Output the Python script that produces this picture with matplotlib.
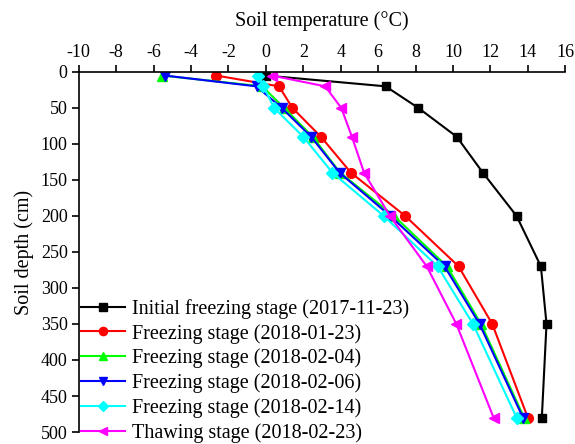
import numpy as np
import matplotlib
matplotlib.use('Agg')
import matplotlib.pyplot as plt

plt.rcParams['font.family'] = ['Liberation Serif', 'DejaVu Serif']
plt.rcParams['font.size'] = 13
plt.rcParams['axes.unicode_minus'] = False

# 测点深度 (cm)
depth = [5, 20, 50, 90, 140, 200, 270, 350, 480]

# 各时期地温 (°C)
t_initial = [0.0, 6.4, 8.15, 10.2, 11.6, 13.4, 14.7, 15.0, 14.75]
t_0123 = [-2.65, 0.7, 1.42, 2.94, 4.55, 7.45, 10.3, 12.1, 14.0]
t_0204 = [-5.55, -0.2, 0.98, 2.5, 3.97, 6.85, 9.68, 11.5, 13.8]
t_0206 = [-5.4, -0.5, 0.85, 2.42, 3.94, 6.65, 9.55, 11.42, 13.74]
t_0214 = [-0.43, -0.13, 0.44, 2.0, 3.56, 6.3, 9.18, 11.07, 13.4]
t_0223 = [0.32, 3.17, 4.03, 4.6, 5.25, 6.63, 8.6, 10.18, 12.17]

labels = ['Initial freezing stage (2017-11-23)',
          'Freezing stage (2018-01-23)',
          'Freezing stage (2018-02-04)',
          'Freezing stage (2018-02-06)',
          'Freezing stage (2018-02-14)',
          'Thawing stage (2018-02-23)']

fig = plt.figure(figsize=(5.75, 4.44), dpi=100)
ax = fig.add_axes([0.137, 0.027, 0.846, 0.811])

ax.plot(t_initial, depth, '-s', color='black', ms=6, lw=1.5, label=labels[0])
ax.plot(t_0123, depth, '-o', color='red', ms=7, lw=1.5, label=labels[1])
ax.plot(t_0204, depth, '-^', color='#00ff00', ms=7, lw=1.5, label=labels[2])
ax.plot(t_0206, depth, '-v', color='blue', ms=7, lw=1.5, label=labels[3])
ax.plot(t_0214, depth, '-D', color='cyan', ms=6, lw=1.5, label=labels[4])
ax.plot(t_0223, depth, '-<', color='magenta', ms=7, lw=1.5, label=labels[5])

ax.set_xlim(-10, 16)
ax.set_ylim(500, 0)
ax.set_xticks(np.arange(-10, 17, 2))
ax.set_yticks(np.arange(0, 501, 50))
ax.xaxis.tick_top()
ax.xaxis.set_label_position('top')
ax.set_xlabel('Soil temperature (°C)', fontsize=14.5, labelpad=13)
ax.set_ylabel('Soil depth (cm)', fontsize=14.5, labelpad=5)
ax.spines['right'].set_visible(False)
ax.spines['bottom'].set_visible(False)
ax.spines['top'].set_linewidth(1.2)
ax.spines['left'].set_linewidth(1.2)
ax.tick_params(direction='out', length=5, width=1.2, pad=3)

ax.legend(loc='lower left', bbox_to_anchor=(0.0, -0.035), frameon=False,
          handlelength=2.2, handletextpad=0.35, labelspacing=0.25, fontsize=14.5,
          borderaxespad=0, borderpad=0.1, markerscale=0.85)

plt.savefig('out.png', dpi=100)
